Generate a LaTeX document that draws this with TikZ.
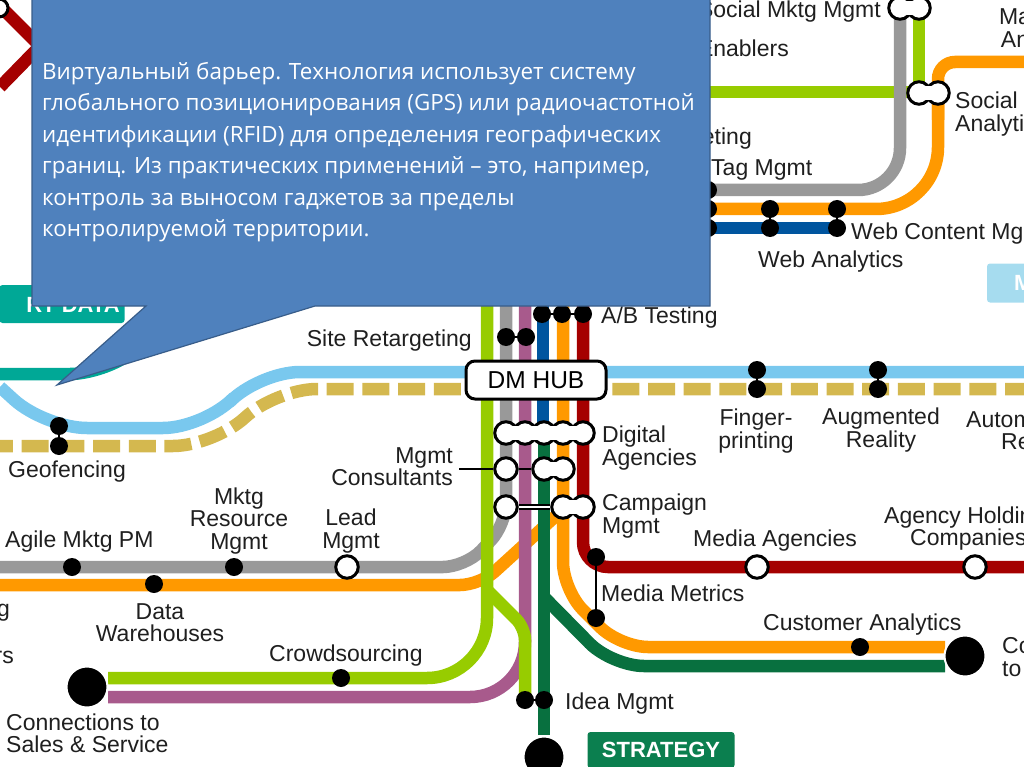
\documentclass[tikz,border=0pt]{standalone}
\usepackage{fontspec}
\setmainfont{Liberation Sans}
\newfontfamily\calloutfont{Open Sans}
\usepackage{tikz}
\usetikzlibrary{positioning,calc}
\definecolor{linelime}{HTML}{97CC00}
\definecolor{linegray}{HTML}{999999}
\definecolor{linemauve}{HTML}{A85A8C}
\definecolor{lineblue}{HTML}{00559F}
\definecolor{linegreen}{HTML}{08703F}
\definecolor{lineorange}{HTML}{FF9900}
\definecolor{linered}{HTML}{A50000}
\definecolor{linesky}{HTML}{79C8EE}
\definecolor{linegold}{HTML}{D4B84F}
\definecolor{lineteal}{HTML}{00A896}
\definecolor{boxsky}{HTML}{A6DCEF}
\definecolor{boxstrategy}{HTML}{0B7F4F}
\definecolor{calloutfill}{HTML}{4F81BD}
\definecolor{calloutedge}{HTML}{385D8A}

\begin{document}
\begin{tikzpicture}[
  x=1pt,y=-1pt,
  font=\fontsize{23}{22.2}\selectfont,
  metro/.style={line width=12.5pt},
  stop/.style={circle,fill=black,inner sep=0pt,minimum size=18pt},
  bigstop/.style={circle,fill=black,draw=white,line width=2pt,inner sep=0pt,minimum size=41pt},
  ring/.style={circle,fill=white,draw=black,line width=3pt,inner sep=0pt,minimum size=22.5pt},
  tie/.style={line width=1.3pt,black},
  lbl/.style={align=center,inner sep=0pt,text=black!88,yshift=-2pt},
  lbll/.style={lbl,align=left,anchor=west},
  tagbox/.style={rounded corners=3pt,inner sep=0pt},
  tagtext/.style={inner sep=0pt,text=white,font=\fontsize{22}{24}\selectfont\bfseries},
]
\useasboundingbox (0,0) rectangle (1024,767);
\clip (0,0) rectangle (1024,767);

% Top-left and far-left lines
\draw[metro,linered] (0,6) -- (40,46) -- (0,87);
\node[ring,minimum size=18pt] (ringcorner) at (-1,8) {};
\draw[metro,lineteal,rounded corners=30pt] (0,374) -- (100,374) -- (150,340);
\node[tagbox,fill=lineteal,minimum width=125pt,minimum height=38pt] (rtbox) at (62,304) {};
\node[tagtext] (rtdata) at (73,305) {RT DATA};

% Horizontal lines through the hub
\draw[metro,linesky,rounded corners=42pt] (0,387) -- (45,428) -- (205,428) -- (258,372) -- (1024,372);
\draw[metro,linegold,dash pattern=on 27pt off 8.7pt,rounded corners=42pt] (1032,389) -- (275,389) -- (215,446) -- (0,446);

% Lines left of the hub
\draw[metro,linegray,rounded corners=22pt] (506,300) -- (506,525) -- (465,567) -- (0,567);
\draw[metro,lineorange,rounded corners=20pt] (0,585) -- (480,585) -- (558,514);
\draw[metro,linemauve,rounded corners=55pt] (525,300) -- (525,697) -- (108,697);
\draw[metro,linelime,rounded corners=60pt] (487,300) -- (487,678) -- (108,678);
\draw[metro,linelime,rounded corners=12pt] (487,590) -- (525,628) -- (525,700);

% Lines right of the hub
\draw[metro,lineblue] (543,300) -- (543,430);
\draw[metro,linegreen] (544,430) -- (544,735);
\draw[metro,linegreen,rounded corners=32pt] (544,597) -- (612,666) -- (945,666);
\draw[metro,lineorange,rounded corners=28pt] (563,300) -- (563,590) -- (620,647) -- (945,647);
\draw[metro,linered,rounded corners=25pt] (583,300) -- (583,567) -- (1024,567);

% Top right lines
\draw[metro,linelime] (919,0) -- (919,92) -- (700,92);
\draw[metro,linegray,rounded corners=42pt] (900,10) -- (900,190) -- (700,190);
\draw[metro,lineorange,rounded corners=17pt] (1024,62) -- (938,62) -- (938,120);
\draw[metro,lineorange,rounded corners=62pt] (938,100) -- (938,209) -- (700,209);
\draw[metro,lineblue] (700,228) -- (837,228);

% Hub
\node[draw=black,fill=white,line width=3pt,rounded corners=9pt,minimum width=140pt,minimum height=38pt,inner sep=0pt,font=\fontsize{24.5}{24}\selectfont] (hub) at (536,380) {DM HUB};

% Stops on the hub lines
\node[stop] (geoa) at (59,426) {};
\node[stop] (geob) at (59,446) {};
\draw[tie] (geoa) -- (geob);
\node[stop] (fpa) at (757,370) {};
\node[stop] (fpb) at (757,389) {};
\draw[tie] (fpa) -- (fpb);
\node[stop] (ara) at (878,370) {};
\node[stop] (arb) at (878,389) {};
\draw[tie] (ara) -- (arb);

% Stops on the vertical bundle
\node[stop] (sra) at (506,337) {};
\node[stop] (srb) at (526,337) {};
\draw[tie] (sra) -- (srb);
\node[stop] (aba) at (542,314) {};
\node[stop] (abb) at (562,314) {};
\node[stop] (abc) at (583,314) {};
\draw[tie] (aba) -- (abb) -- (abc);
\node[stop] (mmtop) at (596,557) {};
\node[stop] (mmlow) at (596,618) {};
\draw[tie] (mmtop) -- (mmlow);

% Stops along the lower lines
\node[stop] (agile) at (72,567) {};
\node[stop] (resource) at (234,567) {};
\node[stop] (dataw) at (154,584) {};
\node[ring] (lead) at (347,567) {};
\node[stop] (crowd) at (341,678) {};
\node[stop] (cust) at (860,647) {};
\node[ring] (media) at (757,567) {};
\node[ring] (holding) at (975,567) {};
\node[stop] (ideaa) at (525,700) {};
\node[stop] (ideab) at (544,700) {};
\draw[tie] (ideaa) -- (ideab);
\node[bigstop] (connect) at (87,687) {};
\node[bigstop] (cotop) at (965,656) {};
\node[bigstop] (strat) at (544,757) {};

% Top right stops
\node[ring] (smma) at (900,8) {};
\node[ring] (smmb) at (919,8) {};
\node[ring] (saa) at (919,93) {};
\node[ring] (sab) at (938,93) {};
\node[stop] (waa) at (770,209) {};
\node[stop] (wab) at (770,228) {};
\node[stop] (wca) at (837,209) {};
\node[stop] (wcb) at (837,228) {};
\node[stop] (wta) at (708,190) {};
\node[stop] (wtb) at (708,209) {};
\node[stop] (wtc) at (708,228) {};
\draw[tie] (waa) -- (wab);
\draw[tie] (wca) -- (wcb);

% White ring chains
\node[ring] (daa) at (506,433) {};
\node[ring] (dab) at (525,433) {};
\node[ring] (dac) at (544,433) {};
\node[ring] (dad) at (563,433) {};
\node[ring] (dae) at (583,433) {};
\node[ring] (mca) at (506,469) {};
\node[ring] (mcb) at (544,469) {};
\node[ring] (mcc) at (563,469) {};
\node[ring] (cma) at (506,507) {};
\node[ring] (cmb) at (563,507) {};
\node[ring] (cmc) at (583,507) {};
\foreach \ringa/\ringb in {daa/dab,dab/dac,dac/dad,dad/dae,mcb/mcc,cmb/cmc,smma/smmb,saa/sab}
  \fill[white] ($(\ringa)+(0,-7)$) -- ($(\ringb)+(0,-7)$) -- ($(\ringb)+(0,7)$) -- ($(\ringa)+(0,7)$) -- cycle;
\draw[line width=2.5pt] (mca) -- (mcb);
\draw[line width=5.5pt] (cma) -- (cmb);
\draw[white,line width=1.5pt] (cma) -- (cmb);

% Labels
\node[lbl] at (67,470) {Geofencing};
\node[lbl,anchor=east] at (472,339) {Site Retargeting};
\node[lbl,anchor=west] at (601,316) {A/B Testing};
\node[lbl,align=right,anchor=east] (mclabel) at (453,465) {Mgmt\\Consultants};
\coordinate (mctie) at (459,469);
\draw[tie] (mctie) -- (mca);
\node[lbll] at (602,446) {Digital\\Agencies};
\node[lbll] at (602,514) {Campaign\\Mgmt};
\node[lbl] at (756,429) {Finger-\\printing};
\node[lbl] at (881,428) {Augmented\\Reality};
\node[lbll] at (966,429) {Autom\\\hspace{35pt}Re};
\node[lbl,anchor=west] at (693,539) {Media Agencies};
\node[lbl,anchor=west] at (884,516) {Agency Holdin};
\node[lbl,anchor=west] at (910,538) {Companies};
\node[lbl,anchor=west] at (601,591) {Media Metrics};
\node[lbl,anchor=west] at (763,623) {Customer Analytics};
\node[lbll] at (1002,655) {Co\\to};
\node[lbl,anchor=west] at (565,702) {Idea Mgmt};
\node[lbl,anchor=west] at (5,540) {Agile Mktg PM};
\node[lbl] at (239,519) {Mktg\\Resource\\Mgmt};
\node[lbl] at (351,529) {Lead\\Mgmt};
\node[lbl] at (160,621) {Data\\Warehouses};
\node[lbl,anchor=west] at (269,654) {Crowdsourcing};
\node[lbl,align=left,anchor=west] at (6,731) {Connections to\\Sales \& Service};
\node[lbl,anchor=east] at (10,611) {g};
\node[lbl,anchor=east] at (14,655) {rs};
\node[lbl,anchor=east] at (881,10) {Social Mktg Mgmt};
\node[lbl,anchor=east] at (789,46) {Enablers};
\node[lbl,anchor=east] at (752,137) {eting};
\node[lbl,anchor=west] at (711,168) {Tag Mgmt};
\node[lbl,anchor=west] at (851,232) {Web Content Mg};
\node[lbl,anchor=west] at (758,260) {Web Analytics};
\node[lbll] at (955,112) {Social\\Analyti};
\node[lbl] at (1015,26) {Ma\\An};
\node[tagbox,fill=boxsky,minimum width=60pt,minimum height=39pt] (mbox) at (1017,283) {};
\node[tagtext,anchor=west] (mtext) at (1014,283) {M};
\node[tagbox,fill=boxstrategy,minimum width=147pt,minimum height=36pt,tagtext] (stratbox) at (661,750) {STRATEGY};

% Callout over the map
\fill[calloutfill,draw=calloutedge,line width=1.2pt] (32,-5) -- (710,-5) -- (710,306) -- (315,306) -- (57,385) -- (146,306) -- (32,306) -- cycle;
\node[anchor=north west,align=left,text=white,inner sep=0pt,font=\fontsize{22.4}{31.5}\calloutfont] (calloutnote) at (42,62) {Виртуальный барьер. Технология использует систему\\глобального позиционирования (GPS) или радиочастотной\\идентификации (RFID) для определения географических\\границ. Из практических применений – это, например,\\контроль за выносом гаджетов за пределы\\контролируемой территории.};
\end{tikzpicture}
\end{document}
